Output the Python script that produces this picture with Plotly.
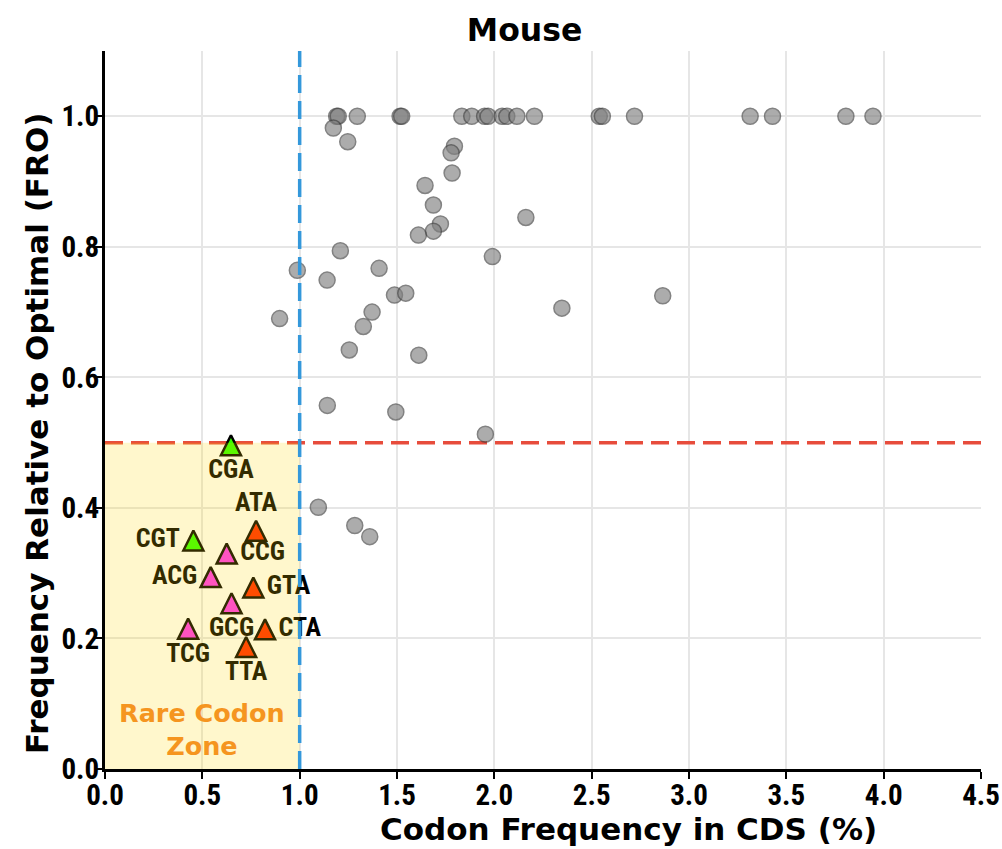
import plotly.graph_objects as go

# ---------------- data ----------------
# Common codons (grey circles)
common_x = [1.190, 1.198, 1.296, 1.516, 1.524, 1.833, 1.884, 1.950, 1.968, 2.040,
            2.064, 2.116, 2.206, 2.539, 2.555, 2.720, 3.314, 3.429, 3.806, 3.945,
            1.173, 1.247, 1.795, 1.778, 1.783, 1.644, 1.687, 1.723, 1.687, 1.610,
            2.162, 1.209, 1.990, 0.988, 1.408, 1.141, 1.487, 1.545, 2.347, 2.865,
            1.372, 1.327, 0.897, 1.255, 1.612, 1.142, 1.494, 1.954, 1.096, 1.283,
            1.360]
common_y = [1.000, 1.000, 1.000, 1.000, 1.000, 1.000, 1.000, 1.000, 1.000, 1.000,
            1.000, 1.000, 1.000, 1.000, 1.000, 1.000, 1.000, 1.000, 1.000, 1.000,
            0.982, 0.961, 0.954, 0.944, 0.913, 0.894, 0.864, 0.835, 0.824, 0.818,
            0.845, 0.794, 0.785, 0.764, 0.767, 0.749, 0.726, 0.729, 0.706, 0.725,
            0.700, 0.678, 0.690, 0.642, 0.634, 0.557, 0.547, 0.513, 0.401, 0.373,
            0.356]

# Rare codons, grouped by colour
arg_codons = ["CGA", "CGT"]
arg_x = [0.647, 0.454]
arg_y = [0.496, 0.350]

cg_codons = ["ACG", "CCG", "GCG", "TCG"]
cg_x = [0.543, 0.625, 0.650, 0.427]
cg_y = [0.294, 0.330, 0.254, 0.215]

ta_codons = ["ATA", "GTA", "CTA", "TTA"]
ta_x = [0.776, 0.762, 0.822, 0.725]
ta_y = [0.365, 0.278, 0.214, 0.187]

freq_threshold = 1.0
fro_threshold = 0.5
x_ticks = [0.0, 0.5, 1.0, 1.5, 2.0, 2.5, 3.0, 3.5, 4.0, 4.5]
y_ticks = [0.0, 0.2, 0.4, 0.6, 0.8, 1.0]

# ---------------- styles ----------------
NARROW = ("'Roboto Condensed', 'Noto Sans ExtraCondensed', 'Noto Sans Condensed', "
          "'Liberation Sans Narrow', 'Arial Narrow', 'DejaVu Sans Condensed', sans-serif")
WIDE = "'DejaVu Sans', 'Liberation Sans', sans-serif"
TRI_SIZE = 20

fig = go.Figure()

fig.add_trace(go.Scatter(
    x=common_x, y=common_y, mode="markers",
    marker=dict(size=16, color="#808080", opacity=0.65,
                line=dict(color="#404040", width=1.5)),
    showlegend=False, hoverinfo="x+y"))

def rare_trace(xs, ys, names, color, positions):
    return go.Scatter(
        x=xs, y=ys, mode="markers+text", text=names,
        textposition=positions,
        textfont=dict(family=NARROW, size=26, color="black", weight="bold"),
        marker=dict(symbol="arrow-down", angle=180, standoff=TRI_SIZE / 2,
                    size=TRI_SIZE, color=color,
                    line=dict(color="black", width=2.5)),
        showlegend=False, hoverinfo="text+x+y")

fig.add_trace(rare_trace(arg_x, arg_y, arg_codons, "#33FF00",
                         ["bottom center", "middle left"]))
fig.add_trace(rare_trace(cg_x, cg_y, cg_codons, "#FF33F0",
                         ["middle left", "middle right", "bottom center", "bottom center"]))
fig.add_trace(rare_trace(ta_x, ta_y, ta_codons, "#FF2A00",
                         ["top center", "middle right", "middle right", "bottom center"]))

# threshold lines and rare-codon zone
fig.add_shape(type="line", xref="x", yref="y", x0=0, x1=4.5,
              y0=fro_threshold, y1=fro_threshold, layer="between",
              line=dict(color="#E74C3C", width=3.5, dash="18px,8px"))
fig.add_shape(type="rect", xref="x", yref="y", x0=0, x1=freq_threshold,
              y0=0, y1=fro_threshold, layer="above", line=dict(width=0),
              fillcolor="#FFD700", opacity=0.2)
fig.add_shape(type="line", xref="x", yref="paper", x0=freq_threshold,
              x1=freq_threshold, y0=0, y1=1, layer="above",
              line=dict(color="#3498DB", width=3.5, dash="18px,8px"))

fig.add_annotation(x=0.5, y=0.06, xref="x", yref="y", showarrow=False,
                   text="Rare Codon<br>Zone", align="center",
                   font=dict(family=WIDE, size=25.5, color="#F5951F", weight="bold"))

# axis titles
fig.add_annotation(x=0.598, y=-0.084, xref="paper", yref="paper", showarrow=False,
                   xanchor="center", yanchor="middle",
                   text="Codon Frequency in CDS (%)",
                   font=dict(family=WIDE, size=31, color="black", weight="bold"))
fig.add_annotation(x=-0.0776, y=0.4666, xref="paper", yref="paper", showarrow=False,
                   xanchor="center", yanchor="middle", textangle=-90,
                   text="Frequency Relative to Optimal (FRO)",
                   font=dict(family=WIDE, size=31, color="black", weight="bold"))

axis_common = dict(showline=True, linecolor="black", linewidth=3,
                   ticks="outside", ticklen=7, tickwidth=2, tickcolor="black",
                   showgrid=True, gridcolor="#E6E6E6", gridwidth=1.5,
                   zeroline=False, tickformat=".1f", automargin=False,
                   tickfont=dict(family=NARROW, size=29, color="black", weight="bold"))

fig.update_xaxes(range=[0, 4.5], tickvals=x_ticks, ticklabelstandoff=-9, **axis_common)
fig.update_yaxes(range=[0, 1.1], tickvals=y_ticks, ticklabelstandoff=-10, **axis_common)

fig.update_layout(
    width=1002, height=849,
    margin=dict(l=105, r=21, t=51, b=80, autoexpand=False),
    paper_bgcolor="white", plot_bgcolor="white",
    title=dict(text="Mouse", xref="paper", x=0.479, xanchor="center",
               yref="container", y=1 - 29.5 / 849, yanchor="middle",
               font=dict(family=WIDE, size=31.5, color="black", weight="bold")),
    showlegend=False,
)

fig.write_html("out.html")
